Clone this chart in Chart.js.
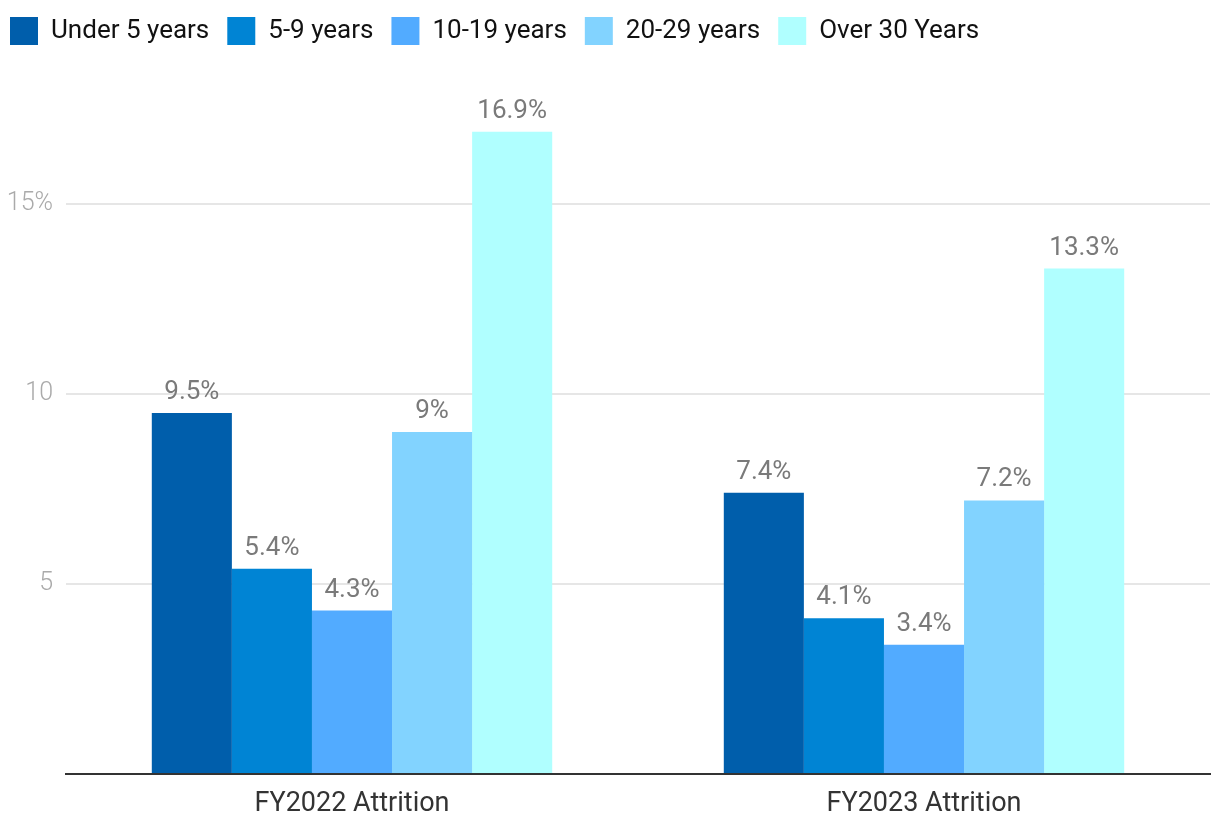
<!DOCTYPE html>
<html>
<head>
<meta charset="utf-8">
<script src="https://cdn.jsdelivr.net/npm/chart.js@4"></script>
<style>
  html, body { margin: 0; padding: 0; background: #fff; }
  .grafico { width: 1220px; height: 834px; }
</style>
</head>
<body>
<div class="grafico"><canvas id="chart"></canvas></div>
<script>
const categories = ["FY2022 Attrition", "FY2023 Attrition"];
const seriesNames = ["Under 5 years", "5-9 years", "10-19 years", "20-29 years", "Over 30 Years"];
const under5 = [9.5, 7.4];
const fiveTo9 = [5.4, 4.1];
const tenTo19 = [4.3, 3.4];
const twentyTo29 = [9, 7.2];
const over30 = [16.9, 13.3];
const yTicks = [0, 5, 10, 15];

const colors = ["#005EAB", "#0084D4", "#52ABFF", "#82D3FF", "#B0FFFF"];
const seriesValues = [under5, fiveTo9, tenTo19, twentyTo29, over30];

const FONT = "Roboto, 'Open Sans', sans-serif";

// draws the value labels above each bar
const barLabels = {
    id: "barLabels",
    afterDatasetsDraw(chart) {
        const ctx = chart.ctx;
        ctx.save();
        ctx.font = "26px " + FONT;
        ctx.fillStyle = "#7a7a7a";
        ctx.textAlign = "center";
        ctx.textBaseline = "alphabetic";
        chart.data.datasets.forEach((ds, i) => {
            chart.getDatasetMeta(i).data.forEach((bar, j) => {
                ctx.fillText(ds.data[j] + "%", bar.x, bar.y - 14);
            });
        });
        ctx.restore();
    }
};

// fixed legend height, and nudge it to the top-left corner
const legendTweak = {
    id: "legendTweak",
    beforeInit(chart) {
        const legend = chart.legend;
        const fit = legend.fit;
        legend.fit = function () {
            fit.call(legend);
            this.height = 71;
        };
        const draw = legend.draw;
        legend.draw = function () {
            const c = this.ctx;
            c.save();
            c.translate(-8, -1);
            draw.call(legend);
            c.restore();
        };
    }
};

new Chart(document.getElementById("chart"), {
    type: "bar",
    data: {
        labels: categories,
        datasets: seriesNames.map((name, i) => ({
            label: name,
            data: seriesValues[i],
            backgroundColor: colors[i],
            borderWidth: 0,
            categoryPercentage: 0.7,
            barPercentage: 1.0
        }))
    },
    options: {
        responsive: true,
        maintainAspectRatio: false,
        animation: false,
        layout: { padding: { left: 0, right: 10, top: 0, bottom: 0 } },
        plugins: {
            legend: {
                position: "top",
                align: "start",
                labels: {
                    boxWidth: 28,
                    boxHeight: 28,
                    padding: 18,
                    color: "#111",
                    font: { family: FONT, size: 26 }
                }
            },
            tooltip: { enabled: false }
        },
        scales: {
            x: {
                grid: { display: false },
                border: { display: true, color: "#333", width: 2 },
                ticks: {
                    color: "#333",
                    padding: 6,
                    font: { family: FONT, size: 27 }
                },
                afterFit(scale) { scale.height = 60; }
            },
            y: {
                min: 0,
                max: 18.5,
                afterBuildTicks(scale) {
                    scale.ticks = yTicks.map(v => ({ value: v }));
                },
                grid: { color: "#e6e6e6", lineWidth: 2, drawTicks: false },
                border: { display: false },
                ticks: {
                    color: "#aaa",
                    padding: 13,
                    font: { family: FONT, size: 25, weight: "300" },
                    callback: (v, i, ticks) => v === 0 ? "" : (i === ticks.length - 1 ? v + "%" : v)
                },
                afterFit(scale) { scale.width = 66; }
            }
        }
    },
    plugins: [barLabels, legendTweak]
});
</script>
</body>
</html>
